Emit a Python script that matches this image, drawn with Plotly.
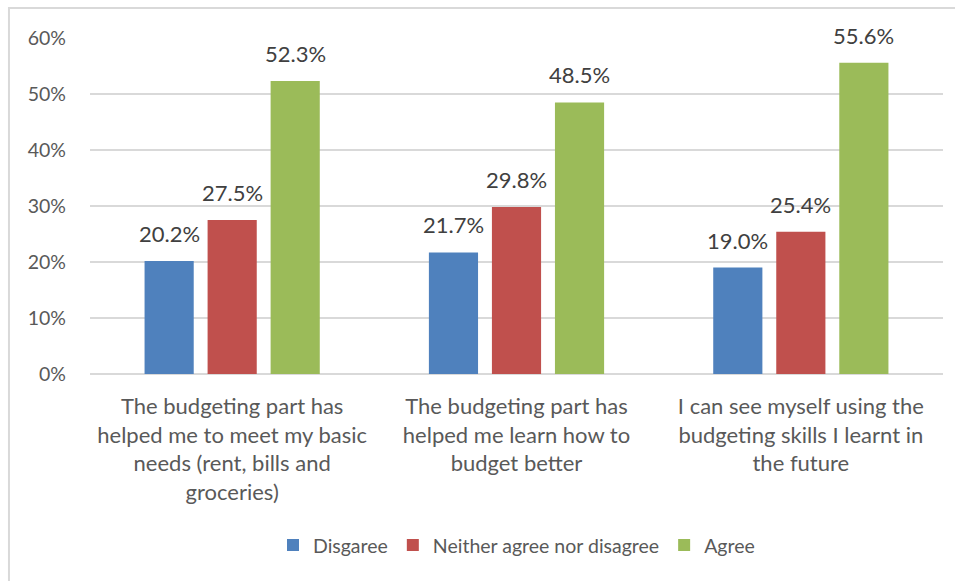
import plotly.graph_objects as go

# Survey statements shown on the x axis (wrapped over several lines)
categories = [
    "The budgeting part has<br>helped me to meet my basic<br>needs (rent, bills and<br>groceries)",
    "The budgeting part has<br>helped me learn how to<br>budget better",
    "I can see myself using the<br>budgeting skills I learnt in<br>the future",
]
series_names = ["Disgaree", "Neither agree nor disagree", "Agree"]
disagree = [20.2, 21.7, 19.0]
neither = [27.5, 29.8, 25.4]
agree = [52.3, 48.5, 55.6]
colors = ["#4F81BD", "#C0504D", "#9BBB59"]

FONT = "Lato"
FS = 22

W, H = 955, 581
M = dict(l=90, r=12, t=38, b=207)
BARGAP = 0.335

fig = go.Figure()
for name, vals, col in zip(series_names, [disagree, neither, agree], colors):
    fig.add_trace(go.Bar(
        x=categories, y=vals, name=name,
        marker=dict(color=col, line=dict(width=0)),
        cliponaxis=False,
    ))

# Value labels above each bar, offset to the bar's slot inside its group
plot_w = W - M["l"] - M["r"]
slot = plot_w / len(categories) * (1 - BARGAP) / len(series_names)
for si, vals in enumerate([disagree, neither, agree]):
    for cat, v in zip(categories, vals):
        fig.add_annotation(
            x=cat, y=v, xref="x", yref="y",
            text=f"{v:.1f}%", showarrow=False,
            xanchor="center", yanchor="bottom",
            xshift=(si - 1) * slot, yshift=12,
            font=dict(family=FONT, size=FS, color="#404040"),
        )

fig.update_layout(
    width=W, height=H,
    margin=M,
    paper_bgcolor="white", plot_bgcolor="white",
    barmode="group", bargap=BARGAP, bargroupgap=0.22,
    font=dict(family=FONT, size=FS, color="#595959"),
    showlegend=True,
    legend=dict(orientation="h", x=0.5, xanchor="center", y=-0.51, yanchor="middle",
                font=dict(family=FONT, size=19.5, color="#595959"),
                itemwidth=30, traceorder="normal"),
    xaxis=dict(showgrid=False, showline=False, ticks="", ticklabelstandoff=17,
               tickfont=dict(family=FONT, size=FS, color="#595959")),
    yaxis=dict(range=[0, 60], dtick=10, ticksuffix="%", showgrid=True,
               gridcolor="#D9D9D9", gridwidth=1.5, zeroline=True,
               zerolinecolor="#D9D9D9", zerolinewidth=1.5, showline=False,
               ticks="", ticklabelstandoff=23,
               tickfont=dict(family=FONT, size=19.5, color="#595959")),
)

# Chart-area frame
fig.add_shape(type="rect", xref="paper", yref="paper",
              x0=-0.095, x1=1.03, y0=-0.65, y1=1.089,
              line=dict(color="#D9D9D9", width=2), layer="below")

fig.write_html("out.html")
